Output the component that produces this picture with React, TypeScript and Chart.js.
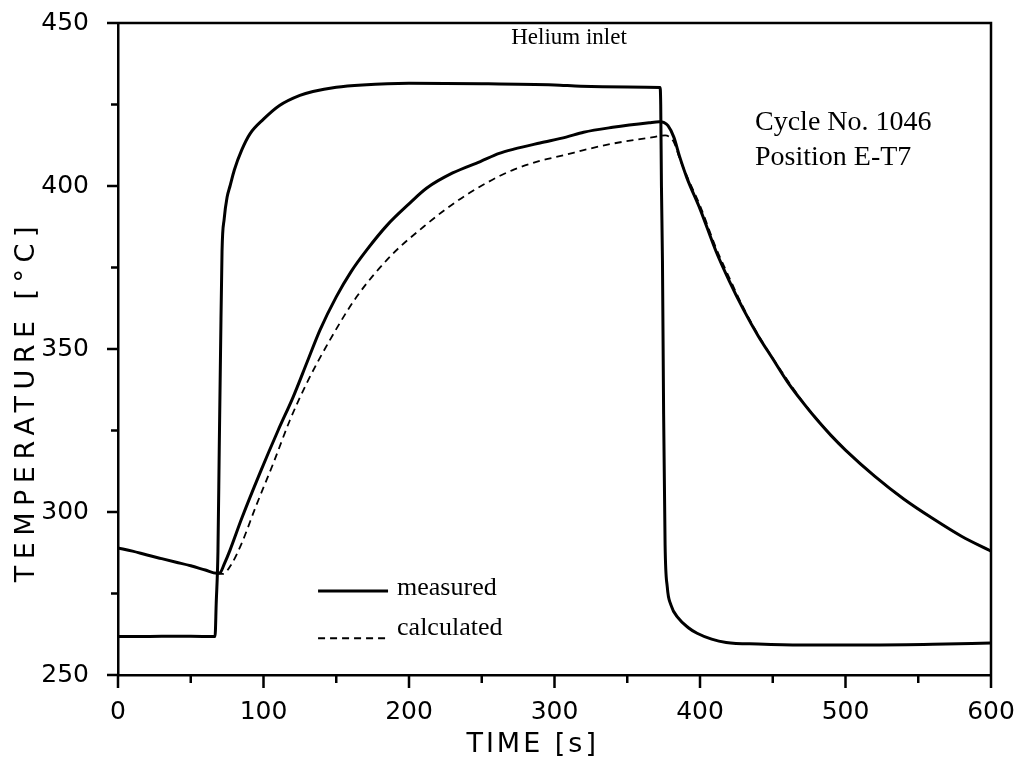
import React, { useEffect, useRef } from 'react';
import { Chart, registerables } from 'chart.js';

Chart.register(...registerables);

// ---- data ----
const heliumTime = [0, 20, 40, 60, 66.7, 67.5, 68.7, 69.6, 70.5, 71.5, 73, 75, 77, 80, 85, 90.7, 100, 111, 125, 134, 150, 168, 200, 250, 300, 318, 350, 372.5, 373, 373.5, 374.2, 375, 376, 377.5, 380, 385, 392, 398, 408, 418, 440, 470, 520, 560, 600];
const heliumTemp = [261.8, 261.8, 261.9, 261.8, 261.8, 272, 288, 320, 350, 380, 390, 396.6, 400, 405, 411, 416, 420.5, 424.7, 427.8, 429, 430.3, 431, 431.5, 431.4, 431, 430.6, 430.4, 430.2, 425, 400, 377, 330, 290, 277, 271.5, 267.5, 264.5, 262.8, 261, 260, 259.5, 259.2, 259.2, 259.4, 259.8];

const measuredTime = [0, 10, 20, 30, 40, 50, 60, 68, 70, 73, 77, 85, 97.6, 110, 120.5, 130, 138.8, 150, 160, 171, 185, 200, 212, 230, 249, 262, 272, 290, 308, 320, 340, 365, 372, 375, 378, 382, 386, 391, 400, 411, 420, 430, 440, 450, 460, 470, 480, 490, 500, 520, 540, 560, 580, 600];
const measuredTemp = [289, 288, 286.8, 285.7, 284.6, 283.5, 282.2, 281.2, 281.3, 284, 288.3, 298, 312, 325, 335.4, 346, 355.8, 366, 373.6, 380.4, 388, 394.5, 399.3, 404, 407.5, 410, 411.3, 413.2, 415, 416.5, 418, 419.4, 419.7, 419.5, 418.5, 415, 409, 402.5, 393, 380, 371, 362, 354, 347, 340, 334, 328.5, 323.5, 319, 311, 304, 298, 292.5, 288];

const calculatedTime = [68, 72, 78, 85, 95, 106.8, 118, 129.7, 145.7, 164, 188, 210, 225, 242, 262, 272, 290, 308, 320, 340, 368, 376, 382, 386, 391, 400, 411, 420, 430, 440, 450, 460, 470, 480, 490, 500, 520, 540, 560, 580, 600];
const calculatedTemp = [281.2, 281, 284, 290.4, 302, 315, 328, 339.5, 352.8, 366, 378.8, 387.5, 392.8, 398, 403, 405, 407.7, 409.6, 411, 413, 415, 415.5, 413.5, 408.5, 403, 394, 381, 372, 362.5, 354.3, 347.2, 340.5, 334.2, 328.7, 323.6, 319, 311, 304, 298, 292.5, 288];

const xMajorTicks = [0, 100, 200, 300, 400, 500, 600];
const xMinorTicks = [50, 150, 250, 350, 450, 550];
const yMajorTicks = [250, 300, 350, 400, 450];
const yMinorTicks = [275, 325, 375, 425];

const xTitle = 'TIME [s]';
const yTitle = 'TEMPERATURE [°C]';
const curveLabel = 'Helium inlet';
const infoLines = ['Cycle No. 1046', 'Position E-T7'];
const legendLabels = ['measured', 'calculated'];

const W = 1019;
const H = 767;
const SANS = '"DejaVu Sans", sans-serif';
const SERIF = '"Liberation Serif", "Times New Roman", serif';

const toPoints = (xs: number[], ys: number[]) => xs.map((x, i) => ({ x, y: ys[i] }));

const decorPlugin = {
  id: 'decor',
  afterDraw(chart: any) {
    const { ctx, chartArea: a, scales } = chart;
    const xs = scales.x;
    const ys = scales.y;
    ctx.save();
    ctx.strokeStyle = '#000';
    ctx.fillStyle = '#000';
    // frame top & right
    ctx.lineWidth = 2.5;
    ctx.beginPath();
    ctx.moveTo(a.left, a.top);
    ctx.lineTo(a.right, a.top);
    ctx.lineTo(a.right, a.bottom);
    ctx.stroke();
    // tick marks
    ctx.lineWidth = 2.5;
    ctx.beginPath();
    xMajorTicks.forEach((v) => {
      const p = xs.getPixelForValue(v);
      ctx.moveTo(p, a.bottom);
      ctx.lineTo(p, a.bottom + 13);
    });
    xMinorTicks.forEach((v) => {
      const p = xs.getPixelForValue(v);
      ctx.moveTo(p, a.bottom);
      ctx.lineTo(p, a.bottom + 8);
    });
    yMajorTicks.forEach((v) => {
      const p = ys.getPixelForValue(v);
      ctx.moveTo(a.left, p);
      ctx.lineTo(a.left - 11, p);
    });
    yMinorTicks.forEach((v) => {
      const p = ys.getPixelForValue(v);
      ctx.moveTo(a.left, p);
      ctx.lineTo(a.left - 7, p);
    });
    ctx.stroke();

    // axis titles
    ctx.font = `27px ${SANS}`;
    (ctx as any).letterSpacing = '3px';
    ctx.textAlign = 'center';
    ctx.textBaseline = 'middle';
    ctx.fillText(xTitle, xs.getPixelForValue(285), 745);
    ctx.save();
    ctx.translate(27, ys.getPixelForValue(334));
    ctx.rotate(-Math.PI / 2);
    (ctx as any).letterSpacing = '6.5px';
    ctx.fillText(yTitle, 0, 0);
    ctx.restore();
    (ctx as any).letterSpacing = '0px';

    // annotations
    ctx.font = `23px ${SERIF}`;
    ctx.textAlign = 'center';
    ctx.fillText(curveLabel, xs.getPixelForValue(310), ys.getPixelForValue(445.4));
    ctx.font = `28px ${SERIF}`;
    ctx.textAlign = 'left';
    ctx.fillText(infoLines[0], xs.getPixelForValue(437.8), ys.getPixelForValue(419.3));
    ctx.fillText(infoLines[1], xs.getPixelForValue(437.8), ys.getPixelForValue(408.6));

    // legend
    ctx.font = `26px ${SERIF}`;
    ctx.fillText(legendLabels[0], xs.getPixelForValue(191.8), ys.getPixelForValue(276.7));
    ctx.fillText(legendLabels[1], xs.getPixelForValue(191.8), ys.getPixelForValue(264.4));
    ctx.lineWidth = 3;
    ctx.beginPath();
    ctx.moveTo(xs.getPixelForValue(137.5), ys.getPixelForValue(275.8));
    ctx.lineTo(xs.getPixelForValue(185.6), ys.getPixelForValue(275.8));
    ctx.stroke();
    ctx.lineWidth = 2;
    ctx.setLineDash([7, 5]);
    ctx.beginPath();
    ctx.moveTo(xs.getPixelForValue(137.5), ys.getPixelForValue(261.3));
    ctx.lineTo(xs.getPixelForValue(185.6), ys.getPixelForValue(261.3));
    ctx.stroke();
    ctx.restore();
  },
};

export default function App() {
  const ref = useRef<HTMLCanvasElement | null>(null);

  useEffect(() => {
    if (!ref.current) return;
    const chart = new Chart(ref.current, {
      type: 'line',
      data: {
        datasets: [
          {
            label: 'Helium inlet',
            data: toPoints(heliumTime, heliumTemp),
            borderColor: '#000',
            borderWidth: 3,
            pointRadius: 0,
            cubicInterpolationMode: 'monotone',
            fill: false,
          },
          {
            label: 'measured',
            data: toPoints(measuredTime, measuredTemp),
            borderColor: '#000',
            borderWidth: 3,
            pointRadius: 0,
            cubicInterpolationMode: 'monotone',
            fill: false,
          },
          {
            label: 'calculated',
            data: toPoints(calculatedTime, calculatedTemp),
            borderColor: '#000',
            borderWidth: 1.8,
            borderDash: [7, 5],
            pointRadius: 0,
            cubicInterpolationMode: 'monotone',
            fill: false,
          },
        ],
      },
      options: {
        responsive: false,
        animation: false,
        devicePixelRatio: 1,
        layout: { padding: { left: 0, top: 23, right: 28, bottom: 0 } },
        plugins: { legend: { display: false }, tooltip: { enabled: false } },
        scales: {
          x: {
            type: 'linear',
            min: 0,
            max: 600,
            afterBuildTicks: (s: any) => {
              s.ticks = xMajorTicks.map((v) => ({ value: v }));
            },
            afterFit: (s: any) => {
              s.height = 92;
              s.paddingLeft = 0;
              s.paddingRight = 0;
            },
            grid: { display: false },
            border: { display: true, color: '#000', width: 2.5 },
            ticks: { color: '#000', font: { family: SANS, size: 25 }, padding: 14, maxRotation: 0 },
          },
          y: {
            type: 'linear',
            min: 250,
            max: 450,
            afterBuildTicks: (s: any) => {
              s.ticks = yMajorTicks.map((v) => ({ value: v }));
            },
            afterFit: (s: any) => {
              s.width = 118;
              s.paddingTop = 0;
              s.paddingBottom = 0;
            },
            grid: { display: false },
            border: { display: true, color: '#000', width: 2.5 },
            ticks: { color: '#000', font: { family: SANS, size: 25 }, padding: 21 },
          },
        },
      },
      plugins: [decorPlugin],
    });
    return () => chart.destroy();
  }, []);

  return (
    <div style={{ position: 'absolute', left: 0, top: 0, width: W, height: H, background: '#fff' }}>
      <canvas ref={ref} width={W} height={H} style={{ width: W, height: H, display: 'block' }} />
    </div>
  );
}
